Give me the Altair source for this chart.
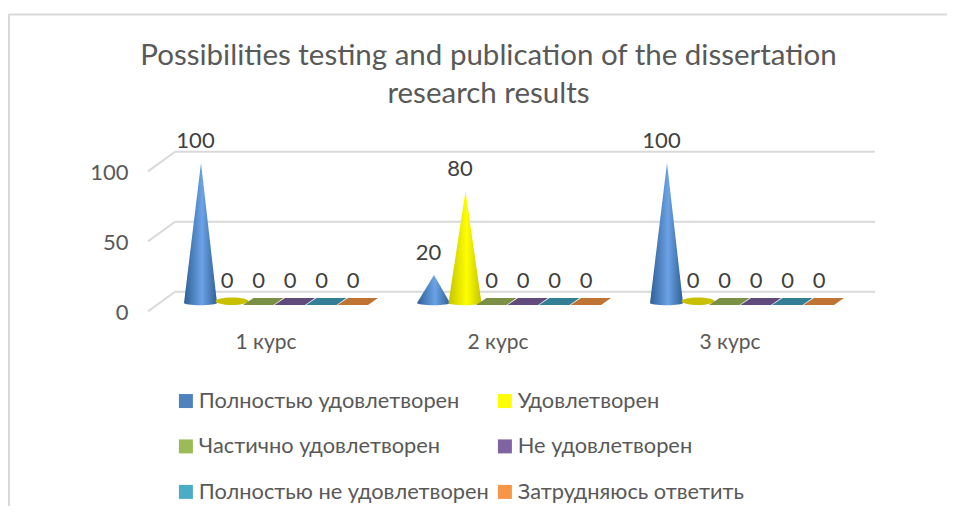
import json
import altair as alt
import pandas as pd

groups = ["1 курс", "2 курс", "3 курс"]
series = ["Полностью удовлетворен", "Удовлетворен", "Частично удовлетворен",
          "Не удовлетворен", "Полностью не удовлетворен", "Затрудняюсь ответить"]
values = [
    [100, 0, 0, 0, 0, 0],
    [20, 80, 0, 0, 0, 0],
    [100, 0, 0, 0, 0, 0],
]
y_ticks = [0, 50, 100]
title_lines = ["Possibilities testing and publication of the dissertation",
               "research results"]
legend_colors = ["#4f81bd", "#ffff00", "#9bbb59", "#8064a2", "#4bacc6", "#f79646"]
flat_colors = ["#4f81bd", "#c8c000", "#7a9045", "#614a7c", "#338096", "#bf7433"]

FONT = "Lato, 'Open Sans', sans-serif"
PL, PT, PW, PH = 148, 150, 730, 170
GROUP_STEP, SERIES_STEP, CONE_HALF = 233, 31.5, 16.5
Y_PX_PER_UNIT = 1.4
ZERO_Y = 303 - PT

x_scale = alt.Scale(domain=[-52.5, PW - 52.5], range=[0, PW])
y_scale = alt.Scale(domain=[0, 100], range=[ZERO_Y, ZERO_Y - 100 * Y_PX_PER_UNIT])
LABEL_SHIFT = 65
LABEL_STEP = 232

rows = []
for g, name in enumerate(groups):
    for s, sname in enumerate(series):
        rows.append({"group": name, "series": sname, "s": s,
                     "pos": g * GROUP_STEP + s * SERIES_STEP, "value": values[g][s]})
df = pd.DataFrame(rows)

x_axis = alt.Axis(values=[LABEL_SHIFT + g * LABEL_STEP for g in range(len(groups))],
                  labelExpr=f"{json.dumps(groups, ensure_ascii=False)}[round((datum.value-{LABEL_SHIFT})/{LABEL_STEP})]",
                  title=None, grid=False, domain=False, ticks=False, labelPadding=11,
                  labelFont=FONT, labelFontSize=21, labelColor="#595959", labelAngle=0)
y_axis = alt.Axis(values=y_ticks, title=None, grid=False, domain=False, ticks=False,
                  labelPadding=20, labelOffset=9, labelFont=FONT, labelFontSize=22,
                  labelColor="#595959")

# Walls of the 3D frame: back-wall lines and the slanted floor/side lines
grid_rows = []
for t in y_ticks:
    grid_rows.append({"tick": t, "x": -25.5, "x2": PW - 55.5, "y": t + 8})
grid = alt.Chart(pd.DataFrame(grid_rows)).mark_rule(color="#d9d9d9", strokeWidth=2).encode(
    x=alt.X("x:Q", scale=x_scale, axis=x_axis),
    x2="x2:Q",
    y=alt.Y("y:Q", scale=y_scale, axis=y_axis),
)
slant_rows = []
for t in y_ticks:
    slant_rows.append({"tick": t, "pt": 0, "x": -52.5, "y": t - 6})
    slant_rows.append({"tick": t, "pt": 1, "x": -25.5, "y": t + 8})
slants = alt.Chart(pd.DataFrame(slant_rows)).mark_line(color="#d9d9d9", strokeWidth=2).encode(
    x=alt.X("x:Q", scale=x_scale), y=alt.Y("y:Q", scale=y_scale), detail="tick:N", order="pt:Q")


def cone_gradient(dark, light):
    return alt.Gradient(gradient="linear", x1=0, x2=1, y1=0, y2=0, stops=[
        alt.GradientStop(color=dark, offset=0),
        alt.GradientStop(color=light, offset=0.55),
        alt.GradientStop(color=dark, offset=1),
    ])


cone_styles = {0: cone_gradient("#2f5f96", "#6ba3e6"), 1: cone_gradient("#c4c400", "#ffff00")}
BASE = "M-16.5 0 A16.5 2.2 0 0 0 16.5 0 Z"
layers = [grid, slants]
for s, grad in cone_styles.items():
    for _, r in df[(df.s == s) & (df.value > 0)].iterrows():
        cdf = pd.DataFrame([
            {"y": 0, "x": r.pos - CONE_HALF, "x2": r.pos + CONE_HALF},
            {"y": r.value, "x": r.pos + 0.5, "x2": r.pos + 0.5},
        ])
        layers.append(alt.Chart(cdf).mark_area(orient="horizontal", fill=grad, opacity=1).encode(
            x=alt.X("x:Q", scale=x_scale, stack=None), x2="x2:Q",
            y=alt.Y("y:Q", scale=y_scale, stack=None)))
    layers.append(alt.Chart(df[(df.s == s) & (df.value > 0)]).transform_calculate(base="0").mark_point(
        shape=BASE, size=4, filled=True, fill=grad, opacity=1, strokeWidth=0).encode(
        x=alt.X("pos:Q", scale=x_scale), y=alt.Y("base:Q", scale=y_scale)))

ELLIPSE = "M-16.5 -1.7 A16.5 3.7 0 1 1 16.5 -1.7 A16.5 3.7 0 1 1 -16.5 -1.7 Z"
PARA = "M-20.5 2 L10 2 L20 -5 L-10 -5 Z"
for s in range(len(series)):
    sub = df[(df.s == s) & (df.value == 0)]
    if sub.empty:
        continue
    layers.append(alt.Chart(sub).mark_point(
        shape=ELLIPSE if s < 2 else PARA, size=4, filled=True, fill=flat_colors[s],
        opacity=1, strokeWidth=0).encode(
        x=alt.X("pos:Q", scale=x_scale), y=alt.Y("value:Q", scale=y_scale)))

labels = alt.Chart(df).mark_text(dx=-5, dy=-22, font=FONT, fontSize=22, color="#404040").encode(
    x=alt.X("pos:Q", scale=x_scale), y=alt.Y("value:Q", scale=y_scale), text="value:Q")
layers.append(labels)

# The legend lists entries column by column, so odd-numbered series fill the left column
legend_order = series[0::2] + series[1::2]
legend_range = legend_colors[0::2] + legend_colors[1::2]
legend_src = alt.Chart(df).mark_point(filled=True, size=0, opacity=0, shape="square").encode(
    x=alt.X("pos:Q", scale=x_scale), y=alt.Y("value:Q", scale=y_scale),
    color=alt.Color("series:N", scale=alt.Scale(domain=legend_order, range=legend_range),
                    sort=legend_order,
                    legend=alt.Legend(orient="none", legendX=175 - PL, legendY=390 - PT, columns=2,
                                      title=None, symbolType="square", symbolSize=196,
                                      symbolOpacity=1, symbolStrokeWidth=0,
                                      labelFont=FONT, labelFontSize=21.8, labelColor="#595959",
                                      labelLimit=400, rowPadding=22.5, columnPadding=5,
                                      labelOffset=2)))
layers.append(legend_src)

# Outer frame of the chart
frame = alt.Chart(pd.DataFrame({"a": [0]})).mark_rule(color="#d9d9d9", strokeWidth=2)
layers.append(frame.encode(x=alt.value(9 - PL), y=alt.value(14 - PT), y2=alt.value(514 - PT)))
layers.append(frame.encode(x=alt.value(9 - PL), x2=alt.value(955 - PL), y=alt.value(14.5 - PT)))

chart = alt.layer(*layers).properties(
    width=PW, height=PH, background="white",
    padding={"left": PL - 8, "top": PT - 8, "right": 69, "bottom": 186},
    autosize=alt.AutoSizeParams(type="none"),
    title=alt.TitleParams(text=title_lines, font=FONT, fontSize=29.5, fontWeight="normal",
                          color="#595959", lineHeight=38, anchor="middle", dx=-24.5, offset=-96),
).configure_view(stroke=None)
chart.save("out.html", embed_options={"renderer": "svg", "actions": False})
